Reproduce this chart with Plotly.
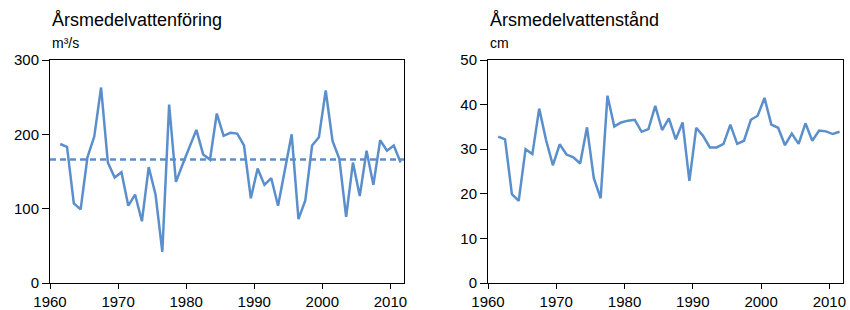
import plotly.graph_objects as go

years = list(range(1961, 2012))

flow = [187, 183, 107, 99, 169, 197, 263, 162, 142, 149,
        104, 119, 83, 156, 119, 42, 240, 136, 160, 183,
        206, 173, 166, 228, 198, 202, 201, 185, 114, 154,
        132, 141, 104, 152, 200, 86, 111, 185, 196, 259,
        191, 167, 89, 162, 117, 178, 132, 192, 178, 185, 162]
flow_mean = 166

level = [32.8, 32.2, 19.9, 18.4, 30.0, 28.9, 39.1, 32.1, 26.4, 31.1,
         28.8, 28.2, 26.8, 34.9, 23.5, 19.0, 42.0, 35.1, 36.0, 36.4,
         36.6, 33.9, 34.5, 39.7, 34.3, 36.9, 32.2, 36.0, 22.9, 34.8,
         33.0, 30.4, 30.4, 31.2, 35.5, 31.2, 31.9, 36.6, 37.5, 41.5,
         35.5, 34.8, 30.9, 33.5, 31.2, 35.8, 31.9, 34.2, 34.0, 33.4, 33.9]

titles = ["Årsmedelvattenföring", "Årsmedelvattenstånd"]
units = ["m³/s", "cm"]
x_ticks = [1960, 1970, 1980, 1990, 2000, 2010]
flow_ticks = [0, 100, 200, 300]
level_ticks = [0, 10, 20, 30, 40, 50]

# years plotted at mid-year
xs = [y + 0.5 for y in years]

COLOR = "#5b8fcc"
FONT = "Arial, Liberation Sans, sans-serif"
W, H = 850, 310
T = 60
B = H - 283

fig = go.Figure()
fig.add_trace(go.Scatter(x=xs, y=flow, mode="lines", xaxis="x", yaxis="y",
                         line=dict(color=COLOR, width=2.5), showlegend=False))
fig.add_trace(go.Scatter(x=[1960, 2012], y=[flow_mean, flow_mean], mode="lines",
                         xaxis="x", yaxis="y",
                         line=dict(color=COLOR, width=2.5, dash="6px,4px"),
                         showlegend=False))
fig.add_trace(go.Scatter(x=xs, y=level, mode="lines", xaxis="x2", yaxis="y2",
                         line=dict(color=COLOR, width=2.5), showlegend=False))

dom1 = [50 / W, 404 / W]
dom2 = [488 / W, 843 / W]

axis_common = dict(showline=True, linecolor="black", linewidth=1, mirror=True,
                   ticks="outside", tickcolor="black", tickwidth=1,
                   showgrid=False, zeroline=False, automargin=False,
                   tickfont=dict(family=FONT, size=15, color="black"))

fig.update_layout(
    template="none",
    width=W, height=H,
    margin=dict(l=0, r=0, t=T, b=B, pad=0),
    paper_bgcolor="white", plot_bgcolor="white",
    xaxis=dict(domain=dom1, range=[1960, 2012], tickvals=x_ticks, anchor="y", ticklen=5, **axis_common),
    yaxis=dict(domain=[0, 1], range=[0, 300], tickvals=flow_ticks, anchor="x", ticklen=7, **axis_common),
    xaxis2=dict(domain=dom2, range=[1960, 2012], tickvals=x_ticks, anchor="y2", ticklen=5, **axis_common),
    yaxis2=dict(domain=[0, 1], range=[0, 50], tickvals=level_ticks, anchor="x2", ticklen=7, **axis_common),
)

ph = H - T - B
for dom, title, unit in zip([dom1, dom2], titles, units):
    fig.add_annotation(text=title, xref="paper", yref="paper", x=dom[0], y=1 + (60 - 20) / ph,
                       xanchor="left", yanchor="middle", showarrow=False,
                       font=dict(family=FONT, size=18, color="black"))
    fig.add_annotation(text=unit, xref="paper", yref="paper", x=dom[0], y=1 + (60 - 43) / ph,
                       xanchor="left", yanchor="middle", showarrow=False,
                       font=dict(family=FONT, size=14, color="black"))

fig.write_html(
    "out.html",
    config={"displayModeBar": False},
    post_script="document.body.style.margin='0';document.body.style.overflow='hidden';",
)
